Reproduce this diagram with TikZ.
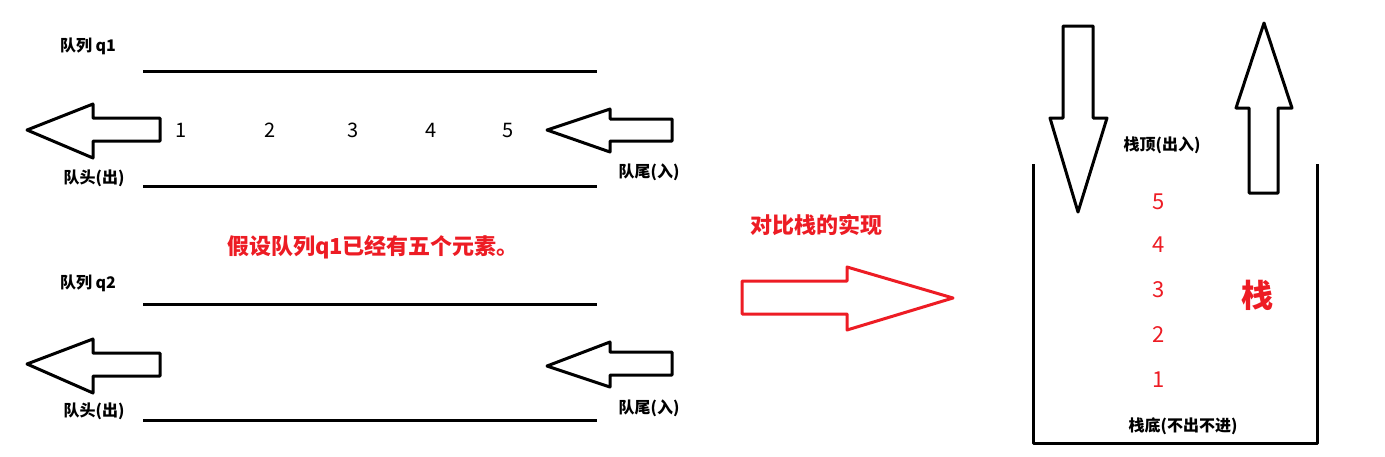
\documentclass[tikz,border=0pt]{standalone}
\usepackage{fontspec}
\usepackage{xcolor}
\usepackage{tikz}
\newfontfamily\cjk{Noto Sans CJK SC}
\definecolor{paintred}{RGB}{237, 28, 36}

\begin{document}
\begin{tikzpicture}[x=1pt,y=-1pt, line width=3pt, line join=round,
    lbl/.style={font=\cjk\bfseries\fontsize{16}{18}\selectfont, inner sep=0pt},
    num/.style={font=\cjk\fontsize{20}{22}\selectfont, inner sep=0pt},
    rednum/.style={font=\cjk\fontsize{22}{24}\selectfont, text=paintred, inner sep=0pt},
    note/.style={font=\cjk\bfseries\fontsize{22}{24}\selectfont, text=paintred, inner sep=0pt}]
    \useasboundingbox (0,0) rectangle (1385,456);

    % queue q1
    \node[lbl] (q1name) at (88,46) {队列 q1};
    \draw (143,71) -- (597,71);
    \draw (143,186) -- (597,186);
    \draw (27,130) -- (93,104) -- (93,118) -- (160,118) -- (160,141) -- (93,141) -- (93,158) -- cycle;
    \draw (547,130) -- (610,109) -- (610,119) -- (672,119) -- (672,141) -- (610,141) -- (610,152) -- cycle;
    \foreach \n/\x in {1/181,2/270,3/353,4/431,5/508}
        \node[num] (q1n\n) at (\x,130) {\n};
    \node[lbl] (q1head) at (94,178) {队头(出)};
    \node[lbl] (q1tail) at (649,172) {队尾(入)};

    \node[note] (given) at (373,247) {假设队列q1已经有五个元素。};

    % queue q2 (empty)
    \node[lbl] (q2name) at (88,283) {队列 q2};
    \draw (143,304) -- (597,304);
    \draw (143,420) -- (597,420);
    \draw (27,364) -- (93,339) -- (93,353) -- (160,353) -- (160,376) -- (93,376) -- (93,393) -- cycle;
    \draw (547,366) -- (610,342) -- (610,352) -- (672,352) -- (672,375) -- (610,375) -- (610,387) -- cycle;
    \node[lbl] (q2head) at (94,411) {队头(出)};
    \node[lbl] (q2tail) at (649,408) {队尾(入)};

    % compare with a stack
    \node[note] (compare) at (816,225) {对比栈的实现};
    \draw[paintred] (742,281) -- (847,281) -- (847,267) -- (953,298) -- (847,330) -- (847,314) -- (742,314) -- cycle;

    % stack
    \draw (1033,164) -- (1033,443) -- (1317,443) -- (1317,164);
    \draw (1063,26) -- (1093,26) -- (1093,118) -- (1107,118) -- (1078,212) -- (1050,118) -- (1063,118) -- cycle;
    \draw (1264,23) -- (1292,108) -- (1278,108) -- (1278,193) -- (1249,193) -- (1249,108) -- (1236,108) -- cycle;
    \node[lbl] (top) at (1162,145) {栈顶(出入)};
    \foreach \n/\y in {5/202,4/245,3/290,2/335,1/380}
        \node[rednum] (s\n) at (1159,\y) {\n};
    \node[font=\cjk\bfseries\fontsize{32}{34}\selectfont, text=paintred, inner sep=0pt] (stack) at (1257,295) {栈};
    \node[lbl] (bottom) at (1183,426) {栈底(不出不进)};
\end{tikzpicture}
\end{document}
